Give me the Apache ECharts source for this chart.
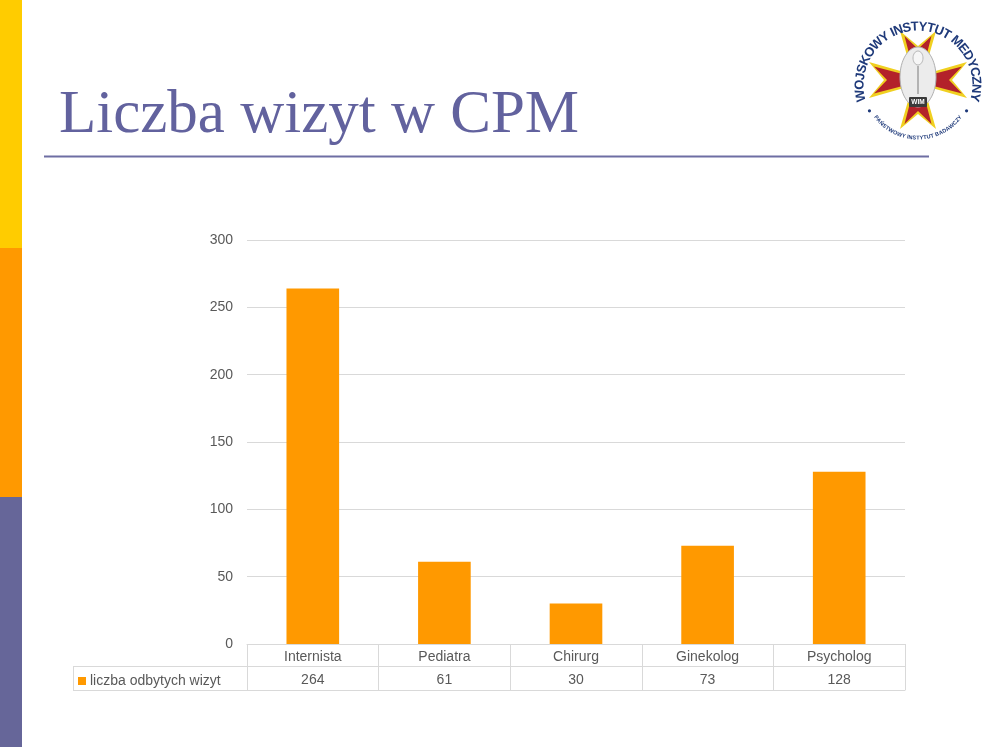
<!DOCTYPE html>
<html>
<head>
<meta charset="utf-8">
<script src="https://cdn.jsdelivr.net/npm/echarts@6/dist/echarts.min.js"></script>
<style>
html,body{margin:0;padding:0;background:#fff;}
#chart{width:994px;height:747px;}
</style>
</head>
<body>
<div id="chart"></div>
<script>
const titleText = 'Liczba wizyt w CPM';
const seriesName = 'liczba odbytych wizyt';
const categories = ['Internista', 'Pediatra', 'Chirurg', 'Ginekolog', 'Psycholog'];
const values = [264, 61, 30, 73, 128];
const yTicks = [0, 50, 100, 150, 200, 250, 300];
const logoTop = 'WOJSKOWY INSTYTUT MEDYCZNY';
const logoBottom = 'PAŃSTWOWY INSTYTUT BADAWCZY';

const FONT = '"Liberation Sans", Arial, sans-serif';
const GREY = '#595959';
const LINE = '#d9d9d9';
const ORANGE = '#FF9900';

// ---- logo helpers ----
const cx = 918, cy = 85;     // ring centre
const ccx = 918, ccy = 80;   // cross centre
const NAVY = '#1f3a7a';
const mctx = document.createElement('canvas').getContext('2d');
function widths(str, font) {
  mctx.font = font;
  return Array.from(str).map(c => mctx.measureText(c).width);
}
function arcText(str, r, spanDeg, size, top) {
  const font = 'bold ' + size + 'px ' + FONT;
  const chars = Array.from(str);
  const w = widths(str, font);
  const total = w.reduce((a, b) => a + b, 0);
  const avail = r * spanDeg * Math.PI / 180;
  const gap = (avail - total) / (chars.length - 1);
  const out = [];
  let s = -avail / 2;
  chars.forEach((c, i) => {
    const mid = s + w[i] / 2;
    const ang = mid / r;
    if (top) {
      out.push({ type: 'text', x: cx + r * Math.sin(ang), y: cy - r * Math.cos(ang), rotation: -ang,
        style: { text: c, fill: NAVY, font: font, align: 'center', verticalAlign: 'middle' } });
    } else {
      out.push({ type: 'text', x: cx + r * Math.sin(ang), y: cy + r * Math.cos(ang), rotation: ang,
        style: { text: c, fill: NAVY, font: font, align: 'center', verticalAlign: 'middle' } });
    }
    s += w[i] + gap;
  });
  return out;
}
function crossArm(angleDeg, len, w0, halfW, notch) {
  const a = angleDeg * Math.PI / 180;
  const pts = [[-w0, 0], [-halfW, -len], [0, -len + notch], [halfW, -len], [w0, 0]];
  return pts.map(([px, py]) => {
    const x = px * Math.cos(a) - py * Math.sin(a);
    const y = px * Math.sin(a) + py * Math.cos(a);
    return [ccx + x, ccy + y];
  });
}
const logo = [];
logo.push({ type: 'circle', shape: { cx: cx, cy: cy, r: 68 }, style: { fill: '#ffffff' } });
[0, 90, 180, 270].forEach(d => {
  logo.push({ type: 'polygon', shape: { points: crossArm(d, 49, 4, 18, 15) }, style: { fill: '#f0d020' } });
});
[0, 90, 180, 270].forEach(d => {
  logo.push({ type: 'polygon', shape: { points: crossArm(d, 44, 2, 13.5, 13) }, style: { fill: '#b3222a' } });
});
logo.push({ type: 'ellipse', shape: { cx: ccx, cy: ccy - 3, rx: 18, ry: 30 }, style: { fill: '#ececec', stroke: '#b0b0b0', lineWidth: 1 } });
logo.push({ type: 'ellipse', shape: { cx: ccx, cy: ccy - 22, rx: 5, ry: 7 }, style: { fill: '#f6f6f6', stroke: '#b8b8b8', lineWidth: 1 } });
logo.push({ type: 'line', shape: { x1: ccx, y1: ccy - 14, x2: ccx, y2: ccy + 14 }, style: { stroke: '#a0a0a0', lineWidth: 1.5 } });
logo.push({ type: 'rect', shape: { x: ccx - 9, y: ccy + 17, width: 18, height: 10, r: 1 }, style: { fill: '#3a3a3a' } });
logo.push({ type: 'text', x: ccx, y: ccy + 22, style: { text: 'WIM', fill: '#ffffff', font: 'bold 6.5px ' + FONT, align: 'center', verticalAlign: 'middle' } });
arcText(logoTop, 58, 213, 13, true).forEach(t => logo.push(t));
arcText(logoBottom, 53, 108, 5.5, false).forEach(t => logo.push(t));
[-62, 62].forEach(deg => {
  const a = deg * Math.PI / 180;
  logo.push({ type: 'circle', shape: { cx: cx + 55 * Math.sin(a), cy: cy + 55 * Math.cos(a), r: 1.6 }, style: { fill: NAVY } });
});

const chart = echarts.init(document.getElementById('chart'), null, { renderer: 'canvas' });
chart.setOption({
  backgroundColor: '#ffffff',
  animation: false,
  textStyle: { fontFamily: FONT },
  graphic: [
    { type: 'rect', shape: { x: 0, y: 0, width: 22, height: 248 }, style: { fill: '#FFCC00' } },
    { type: 'rect', shape: { x: 0, y: 248, width: 22, height: 249 }, style: { fill: '#FF9900' } },
    { type: 'rect', shape: { x: 0, y: 497, width: 22, height: 250 }, style: { fill: '#666699' } },
    { type: 'text', x: 59, y: 146, style: { text: titleText, fill: '#62629e', font: '61px "Liberation Serif", "Times New Roman", serif', verticalAlign: 'bottom' } },
    { type: 'line', shape: { x1: 44, y1: 156.5, x2: 929, y2: 156.5 }, style: { stroke: '#6e6ea3', lineWidth: 2 } },
    // table left cell borders
    { type: 'line', shape: { x1: 73, y1: 666.5, x2: 247, y2: 666.5 }, style: { stroke: LINE, lineWidth: 1 } },
    { type: 'line', shape: { x1: 73, y1: 690.5, x2: 247, y2: 690.5 }, style: { stroke: LINE, lineWidth: 1 } },
    { type: 'line', shape: { x1: 73.5, y1: 666, x2: 73.5, y2: 691 }, style: { stroke: LINE, lineWidth: 1 } },
    { type: 'group', children: logo }
  ],
  legend: {
    left: 78, top: 674, padding: 0,
    data: [seriesName],
    icon: 'rect', itemWidth: 8, itemHeight: 8, itemGap: 5,
    textStyle: { fontSize: 14, color: GREY, fontFamily: FONT, padding: [0, 0, 0, -1] }
  },
  grid: { left: 247, right: 89, top: 240, bottom: 103, containLabel: false },
  xAxis: [
    {
      type: 'category', data: categories, position: 'bottom', boundaryGap: true,
      axisLine: { show: true, lineStyle: { color: LINE, width: 1 } },
      axisTick: { show: true, length: 46, lineStyle: { color: LINE } },
      axisLabel: { fontSize: 14, color: GREY, margin: 6, fontFamily: FONT },
      splitLine: { show: false }
    },
    {
      type: 'category', data: categories, position: 'bottom', offset: 22, boundaryGap: true,
      axisLine: { show: true, lineStyle: { color: LINE, width: 1 } },
      axisTick: { show: false },
      axisLabel: { fontSize: 14, color: GREY, margin: 7, fontFamily: FONT, formatter: (v, i) => String(values[i]) },
      splitLine: { show: false }
    },
    {
      type: 'category', data: categories, position: 'bottom', offset: 46, boundaryGap: true,
      axisLine: { show: true, lineStyle: { color: LINE, width: 1 } },
      axisTick: { show: false },
      axisLabel: { show: false },
      splitLine: { show: false }
    }
  ],
  yAxis: {
    type: 'value', min: yTicks[0], max: yTicks[yTicks.length - 1], interval: yTicks[1] - yTicks[0],
    axisLine: { show: false }, axisTick: { show: false },
    axisLabel: { fontSize: 14, color: GREY, margin: 14, fontFamily: FONT },
    splitLine: { show: true, lineStyle: { color: LINE, width: 1 } }
  },
  series: [{
    name: seriesName, type: 'bar', data: values, barWidth: '40%',
    itemStyle: { color: ORANGE }
  }]
});
</script>
</body>
</html>
